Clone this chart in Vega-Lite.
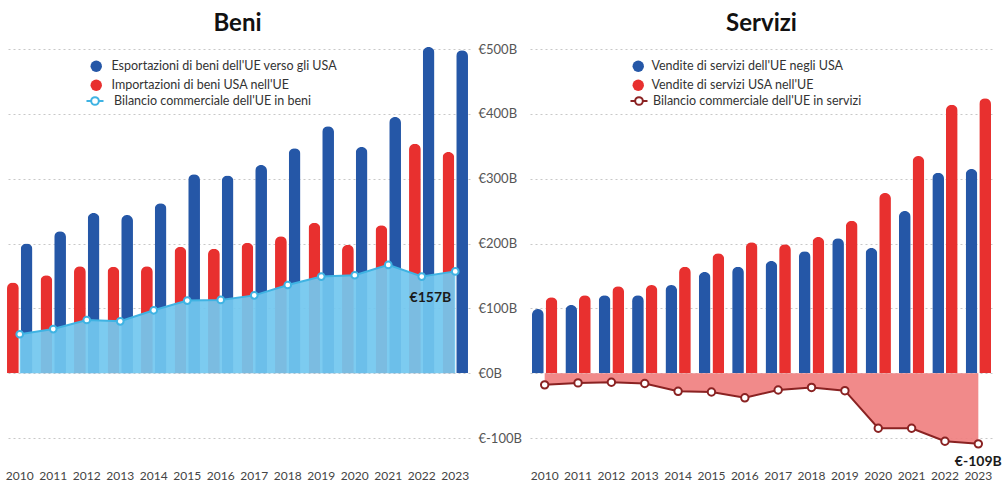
{
  "$schema": "https://vega.github.io/schema/vega-lite/v6.json",
  "background": "white",
  "padding": {"left": 5, "top": 12, "right": 5, "bottom": 0},
  "spacing": 8,
  "config": {
    "font": "Lato",
    "view": {"stroke": null},
    "title": {"fontSize": 24, "fontWeight": "bold", "color": "#111111", "anchor": "middle", "offset": 12, "font": "Lato"},
    "axis": {"labelFont": "Lato", "labelColor": "#444444", "labelFontSize": 12, "domain": false, "ticks": false, "title": null, "gridDash": [2, 3], "gridColor": "#c8c8c8", "gridWidth": 1},
    "legend": {"labelFont": "Lato", "labelFontSize": 12.5, "labelColor": "#333333", "title": null, "rowPadding": 6, "padding": 0, "labelOffset": 9, "labelLimit": 400}
  },
  "datasets": {
    "beni": [
      {"anno": "2010", "serie": "Esportazioni di beni dell'UE verso gli USA", "valore": 200},
      {"anno": "2011", "serie": "Esportazioni di beni dell'UE verso gli USA", "valore": 219},
      {"anno": "2012", "serie": "Esportazioni di beni dell'UE verso gli USA", "valore": 247},
      {"anno": "2013", "serie": "Esportazioni di beni dell'UE verso gli USA", "valore": 244},
      {"anno": "2014", "serie": "Esportazioni di beni dell'UE verso gli USA", "valore": 262},
      {"anno": "2015", "serie": "Esportazioni di beni dell'UE verso gli USA", "valore": 307},
      {"anno": "2016", "serie": "Esportazioni di beni dell'UE verso gli USA", "valore": 305},
      {"anno": "2017", "serie": "Esportazioni di beni dell'UE verso gli USA", "valore": 321},
      {"anno": "2018", "serie": "Esportazioni di beni dell'UE verso gli USA", "valore": 347},
      {"anno": "2019", "serie": "Esportazioni di beni dell'UE verso gli USA", "valore": 381},
      {"anno": "2020", "serie": "Esportazioni di beni dell'UE verso gli USA", "valore": 349},
      {"anno": "2021", "serie": "Esportazioni di beni dell'UE verso gli USA", "valore": 395},
      {"anno": "2022", "serie": "Esportazioni di beni dell'UE verso gli USA", "valore": 503},
      {"anno": "2023", "serie": "Esportazioni di beni dell'UE verso gli USA", "valore": 498},
      {"anno": "2010", "serie": "Importazioni di beni USA nell'UE", "valore": 140},
      {"anno": "2011", "serie": "Importazioni di beni USA nell'UE", "valore": 151},
      {"anno": "2012", "serie": "Importazioni di beni USA nell'UE", "valore": 165},
      {"anno": "2013", "serie": "Importazioni di beni USA nell'UE", "valore": 164},
      {"anno": "2014", "serie": "Importazioni di beni USA nell'UE", "valore": 165},
      {"anno": "2015", "serie": "Importazioni di beni USA nell'UE", "valore": 195},
      {"anno": "2016", "serie": "Importazioni di beni USA nell'UE", "valore": 192},
      {"anno": "2017", "serie": "Importazioni di beni USA nell'UE", "valore": 201},
      {"anno": "2018", "serie": "Importazioni di beni USA nell'UE", "valore": 211},
      {"anno": "2019", "serie": "Importazioni di beni USA nell'UE", "valore": 232},
      {"anno": "2020", "serie": "Importazioni di beni USA nell'UE", "valore": 198},
      {"anno": "2021", "serie": "Importazioni di beni USA nell'UE", "valore": 228},
      {"anno": "2022", "serie": "Importazioni di beni USA nell'UE", "valore": 354},
      {"anno": "2023", "serie": "Importazioni di beni USA nell'UE", "valore": 341}
    ],
    "beni_bilancio": [
      {"anno": "2010", "valore": 60},
      {"anno": "2011", "valore": 68},
      {"anno": "2012", "valore": 82},
      {"anno": "2013", "valore": 80},
      {"anno": "2014", "valore": 97},
      {"anno": "2015", "valore": 112},
      {"anno": "2016", "valore": 113},
      {"anno": "2017", "valore": 120},
      {"anno": "2018", "valore": 136},
      {"anno": "2019", "valore": 149},
      {"anno": "2020", "valore": 151},
      {"anno": "2021", "valore": 167},
      {"anno": "2022", "valore": 149},
      {"anno": "2023", "valore": 157, "etichetta": "€157B"}
    ],
    "servizi": [
      {"anno": "2010", "serie": "Vendite di servizi dell'UE negli USA", "valore": 99},
      {"anno": "2011", "serie": "Vendite di servizi dell'UE negli USA", "valore": 105},
      {"anno": "2012", "serie": "Vendite di servizi dell'UE negli USA", "valore": 120},
      {"anno": "2013", "serie": "Vendite di servizi dell'UE negli USA", "valore": 120},
      {"anno": "2014", "serie": "Vendite di servizi dell'UE negli USA", "valore": 136},
      {"anno": "2015", "serie": "Vendite di servizi dell'UE negli USA", "valore": 156},
      {"anno": "2016", "serie": "Vendite di servizi dell'UE negli USA", "valore": 164},
      {"anno": "2017", "serie": "Vendite di servizi dell'UE negli USA", "valore": 173},
      {"anno": "2018", "serie": "Vendite di servizi dell'UE negli USA", "valore": 188},
      {"anno": "2019", "serie": "Vendite di servizi dell'UE negli USA", "valore": 208},
      {"anno": "2020", "serie": "Vendite di servizi dell'UE negli USA", "valore": 193},
      {"anno": "2021", "serie": "Vendite di servizi dell'UE negli USA", "valore": 250},
      {"anno": "2022", "serie": "Vendite di servizi dell'UE negli USA", "valore": 309},
      {"anno": "2023", "serie": "Vendite di servizi dell'UE negli USA", "valore": 315},
      {"anno": "2010", "serie": "Vendite di servizi USA nell'UE", "valore": 117},
      {"anno": "2011", "serie": "Vendite di servizi USA nell'UE", "valore": 120},
      {"anno": "2012", "serie": "Vendite di servizi USA nell'UE", "valore": 134},
      {"anno": "2013", "serie": "Vendite di servizi USA nell'UE", "valore": 136},
      {"anno": "2014", "serie": "Vendite di servizi USA nell'UE", "valore": 164},
      {"anno": "2015", "serie": "Vendite di servizi USA nell'UE", "valore": 185},
      {"anno": "2016", "serie": "Vendite di servizi USA nell'UE", "valore": 202},
      {"anno": "2017", "serie": "Vendite di servizi USA nell'UE", "valore": 199},
      {"anno": "2018", "serie": "Vendite di servizi USA nell'UE", "valore": 210},
      {"anno": "2019", "serie": "Vendite di servizi USA nell'UE", "valore": 235},
      {"anno": "2020", "serie": "Vendite di servizi USA nell'UE", "valore": 278},
      {"anno": "2021", "serie": "Vendite di servizi USA nell'UE", "valore": 335},
      {"anno": "2022", "serie": "Vendite di servizi USA nell'UE", "valore": 414},
      {"anno": "2023", "serie": "Vendite di servizi USA nell'UE", "valore": 424}
    ],
    "servizi_bilancio": [
      {"anno": "2010", "valore": -18},
      {"anno": "2011", "valore": -15},
      {"anno": "2012", "valore": -14},
      {"anno": "2013", "valore": -16},
      {"anno": "2014", "valore": -28},
      {"anno": "2015", "valore": -29},
      {"anno": "2016", "valore": -38},
      {"anno": "2017", "valore": -26},
      {"anno": "2018", "valore": -22},
      {"anno": "2019", "valore": -27},
      {"anno": "2020", "valore": -85},
      {"anno": "2021", "valore": -85},
      {"anno": "2022", "valore": -105},
      {"anno": "2023", "valore": -109, "etichetta": "€-109B"}
    ]
  },
  "resolve": {"scale": {"x": "independent", "y": "independent", "color": "independent", "stroke": "independent", "xOffset": "independent"}, "legend": {"color": "independent", "stroke": "independent"}},
  "hconcat": [
    {
      "title": {"text": "Beni", "offset": 7},
      "width": 465,
      "height": 389,
      "encoding": {
        "x": {"field": "anno", "type": "ordinal", "scale": {"paddingInner": 0.24, "paddingOuter": 0.06}, "axis": {"labelAngle": 0, "labelPadding": 32}},
        "y": {"field": "valore", "type": "quantitative", "scale": {"domain": [-100, 500], "nice": false}, "axis": {"orient": "right", "values": [-100, 0, 100, 200, 300, 400, 500], "labelExpr": "'€' + datum.value + 'B'", "labelPadding": 8, "labelFontSize": 13, "labelColor": "#555555", "grid": true}}
      },
      "layer": [
        {
          "data": {"name": "beni"},
          "mark": {"type": "bar", "cornerRadiusTopLeft": 6, "cornerRadiusTopRight": 6},
          "encoding": {
            "xOffset": {"field": "serie", "type": "nominal", "sort": ["Importazioni di beni USA nell'UE", "Esportazioni di beni dell'UE verso gli USA"], "scale": {"paddingInner": 0.14}},
            "color": {"field": "serie", "type": "nominal", "scale": {"domain": ["Esportazioni di beni dell'UE verso gli USA", "Importazioni di beni USA nell'UE"], "range": ["#2557a7", "#e8302f"]}, "legend": {"orient": "none", "legendX": 85, "legendY": 11, "symbolType": "circle", "symbolSize": 130, "symbolStrokeWidth": 0}}
          }
        },
        {
          "data": {"name": "beni_bilancio"},
          "mark": {"type": "area", "color": "#72c7ef", "opacity": 0.93},
          "encoding": {"y2": {"datum": 0}}
        },
        {
          "data": {"name": "beni_bilancio"},
          "mark": {"type": "line", "strokeWidth": 2},
          "encoding": {
            "stroke": {"datum": "Bilancio commerciale dell'UE in beni", "scale": {"range": ["#3fb3e3"]}, "legend": {"orient": "none", "legendX": 80, "legendY": 42, "symbolType": "M-1,0L-0.45,0M0.45,0L1,0M0.45,0A0.45,0.45,0,1,1,-0.45,0A0.45,0.45,0,1,1,0.45,0", "symbolSize": 290, "symbolStrokeWidth": 2, "symbolFillColor": "white", "labelOffset": 9}}
          }
        },
        {
          "data": {"name": "beni_bilancio"},
          "mark": {"type": "point", "filled": true, "fill": "white", "size": 45, "strokeWidth": 2, "opacity": 1},
          "encoding": {
            "stroke": {"datum": "Bilancio commerciale dell'UE in beni"}
          }
        },
        {
          "data": {"name": "beni_bilancio"},
          "transform": [{"filter": "datum.etichetta != null"}],
          "mark": {"type": "text", "fontWeight": "bold", "fontSize": 14, "align": "right", "dx": -4, "dy": 27, "color": "#1a1a1a"},
          "encoding": {"text": {"field": "etichetta"}}
        }
      ]
    },
    {
      "title": {"text": "Servizi", "offset": 13},
      "width": 463,
      "height": 389,
      "encoding": {
        "x": {"field": "anno", "type": "ordinal", "scale": {"paddingInner": 0.24, "paddingOuter": 0.06}, "axis": {"labelAngle": 0, "labelPadding": 32}},
        "y": {"field": "valore", "type": "quantitative", "scale": {"domain": [-100, 500], "nice": false}, "axis": {"values": [-100, 0, 100, 200, 300, 400, 500], "labels": false, "grid": true}}
      },
      "layer": [
        {
          "data": {"name": "servizi"},
          "mark": {"type": "bar", "cornerRadiusTopLeft": 6, "cornerRadiusTopRight": 6},
          "encoding": {
            "xOffset": {"field": "serie", "type": "nominal", "sort": ["Vendite di servizi dell'UE negli USA", "Vendite di servizi USA nell'UE"], "scale": {"paddingInner": 0.14}},
            "color": {"field": "serie", "type": "nominal", "scale": {"domain": ["Vendite di servizi dell'UE negli USA", "Vendite di servizi USA nell'UE"], "range": ["#2557a7", "#e8302f"]}, "legend": {"orient": "none", "legendX": 102, "legendY": 11, "symbolType": "circle", "symbolSize": 130, "symbolStrokeWidth": 0, "labelOffset": 7}}
          }
        },
        {
          "data": {"name": "servizi_bilancio"},
          "mark": {"type": "area", "color": "#f07d7d", "opacity": 0.9},
          "encoding": {"y2": {"datum": 0}}
        },
        {
          "data": {"name": "servizi_bilancio"},
          "mark": {"type": "line", "strokeWidth": 2},
          "encoding": {
            "stroke": {"datum": "Bilancio commerciale dell'UE in servizi", "scale": {"range": ["#8a2222"]}, "legend": {"orient": "none", "legendX": 99, "legendY": 42, "symbolType": "M-1,0L-0.45,0M0.45,0L1,0M0.45,0A0.45,0.45,0,1,1,-0.45,0A0.45,0.45,0,1,1,0.45,0", "symbolSize": 290, "symbolStrokeWidth": 2, "symbolFillColor": "white", "labelOffset": 4}}
          }
        },
        {
          "data": {"name": "servizi_bilancio"},
          "mark": {"type": "point", "filled": true, "fill": "white", "size": 55, "strokeWidth": 2, "opacity": 1},
          "encoding": {
            "stroke": {"datum": "Bilancio commerciale dell'UE in servizi"}
          }
        },
        {
          "data": {"name": "servizi_bilancio"},
          "transform": [{"filter": "datum.etichetta != null"}],
          "mark": {"type": "text", "fontWeight": "bold", "fontSize": 14, "align": "center", "dy": 18, "color": "#1a1a1a"},
          "encoding": {"text": {"field": "etichetta"}}
        }
      ]
    }
  ]
}
